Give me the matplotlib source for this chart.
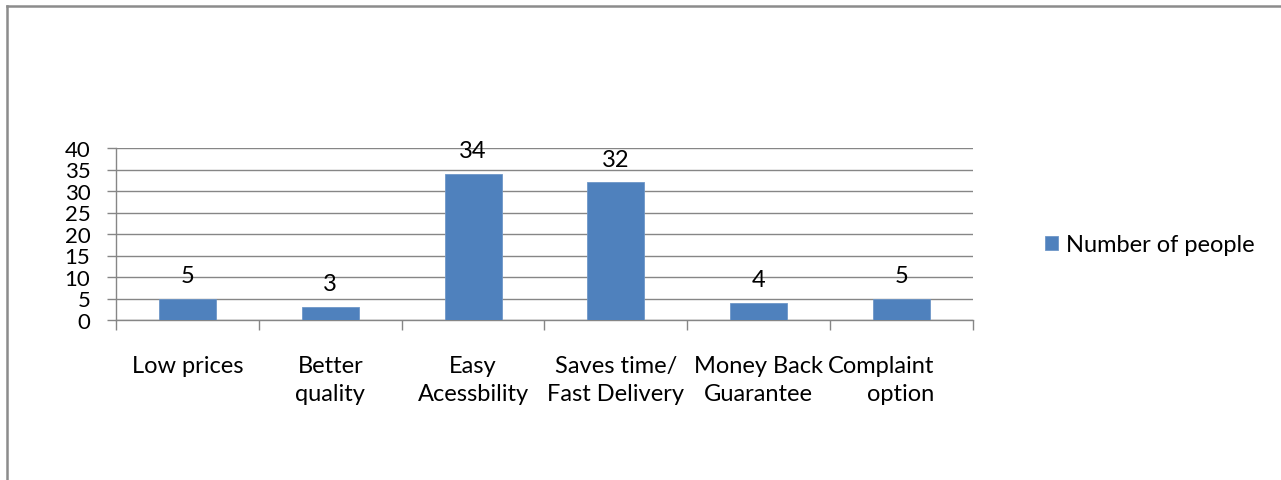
import matplotlib
matplotlib.use("Agg")
import matplotlib.pyplot as plt
import numpy as np
from matplotlib.lines import Line2D
from matplotlib.transforms import ScaledTranslation

categories = ["Low prices", "Better\nquality", "Easy\nAcessbility",
              "Saves time/\nFast Delivery", "Money Back\nGuarantee", "Complaint\noption"]
values = [5, 3, 34, 32, 4, 5]
series_name = "Number of people"
y_ticks = [0, 5, 10, 15, 20, 25, 30, 35, 40]

plt.rcParams["font.family"] = ["Lato", "DejaVu Sans"]

W, H = 1281, 481
fig = plt.figure(figsize=(W / 100, H / 100), dpi=100)
fig.patch.set_facecolor("white")

ax = fig.add_axes([116 / W, 160 / H, 857 / W, 172 / H])

bar_color = "#4F81BD"
grid_color = "#868686"
x = np.arange(len(categories))
bars = ax.bar(x, values, width=0.4, color=bar_color, edgecolor="#6E97C8",
              linewidth=0.6, label=series_name, zorder=3)

for xi, v in zip(x, values):
    ax.annotate(str(v), (xi, v), xytext=(0, 12), textcoords="offset points",
                ha="center", va="baseline", fontsize=17, color="black")

ax.set_xlim(-0.5, len(categories) - 0.5)
ax.set_ylim(0, 40)
ax.set_yticks(y_ticks)
ax.yaxis.grid(True, color=grid_color, linewidth=1.0, zorder=0)
ax.set_axisbelow(True)

# category boundaries carry the tick marks, labels sit at category centres
ax.set_xticks(np.arange(len(categories) + 1) - 0.5)
ax.set_xticklabels([])
ax.set_xticks(x, minor=True)
ax.set_xticklabels(categories, minor=True, fontsize=17, linespacing=1.45)
ax.tick_params(axis="x", which="major", length=7, width=1.0, color=grid_color,
               direction="out")
ax.tick_params(axis="x", which="minor", length=0, pad=25)
ax.tick_params(axis="y", length=6.5, width=1.0, color=grid_color, pad=12,
               labelsize=16, direction="out")

# the last label is right-aligned and nudged left, as laid out by the chart tool
for lbl in ax.get_xticklabels(minor=True):
    if lbl.get_text().startswith("Complaint"):
        lbl.set_multialignment("right")
        lbl.set_transform(lbl.get_transform()
                          + ScaledTranslation(-0.21, 0, fig.dpi_scale_trans))

for side in ("top", "right"):
    ax.spines[side].set_visible(False)
for side in ("left", "bottom"):
    ax.spines[side].set_color(grid_color)
    ax.spines[side].set_linewidth(1.0)

leg = fig.legend(handles=[bars], labels=[series_name], loc="center left",
                 bbox_to_anchor=(1028 / W, 1 - 246 / H), frameon=False,
                 fontsize=17, handlelength=0.55, handleheight=0.55,
                 handletextpad=0.35, borderpad=0.2)

# chart frame
border = "#8C8C8C"
fig.add_artist(Line2D([7 / W, 1.0], [1 - 7 / H, 1 - 7 / H], transform=fig.transFigure,
                      color=border, linewidth=1.8))
fig.add_artist(Line2D([7 / W, 7 / W], [1 - 7 / H, 0.0], transform=fig.transFigure,
                      color=border, linewidth=1.8))

fig.savefig("out.png", dpi=100, facecolor="white")
